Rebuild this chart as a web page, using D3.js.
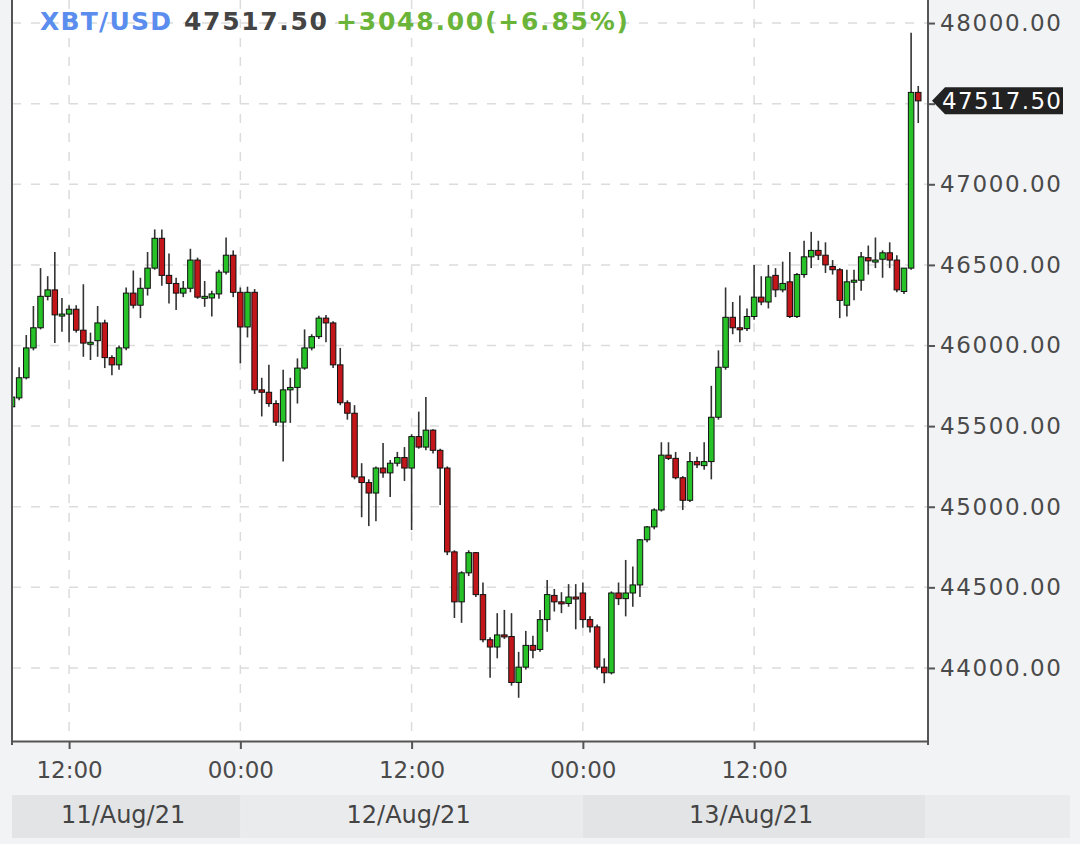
<!DOCTYPE html>
<html>
<head>
<meta charset="utf-8">
<script src="https://cdn.jsdelivr.net/npm/d3@7"></script>
<style>
  html, body { margin: 0; padding: 0; background: #f2f3f5; }
  svg { display: block; font-family: "DejaVu Sans", sans-serif; }
</style>
</head>
<body>
<svg width="1080" height="844"></svg>
<script>
// 30 minute candles, XBT/USD, 11 Aug 2021 08:00 UTC onwards
const symbol = 'XBT/USD';
const startTime = Date.UTC(2021, 7, 11, 8, 0);
const lastPrice = 47517.5;
const change = 3048.0;
const changePct = 6.85;

const opens = [
  45620, 45675, 45800, 45985, 46110, 46305, 46345, 46190, 46195, 46225,
  46095, 46015, 46030, 46140, 45925, 45880, 45985, 46325, 46250, 46355,
  46480, 46665, 46435, 46385, 46325, 46355, 46530, 46300, 46295, 46320,
  46455, 46560, 46330, 46115, 46330, 45725, 45710, 45640, 45525, 45725,
  45740, 45860, 45985, 46055, 46170, 46140, 45880, 45645, 45580, 45185,
  45150, 45085, 45240, 45210, 45270, 45305, 45240, 45435, 45370, 45475,
  45350, 45240, 44720, 44410, 44590, 44715, 44455, 44175, 44130, 44205,
  44195, 43910, 44005, 44140, 44115, 44300, 44450, 44410, 44400, 44440,
  44465, 44300, 44255, 44005, 43970, 44465, 44430, 44465, 44515, 44795,
  44875, 44980, 45320, 45300, 45180, 45040, 45280, 45255, 45280, 45555,
  45865, 46175, 46110, 46105, 46180, 46300, 46270, 46435, 46345, 46395,
  46180, 46440, 46550, 46590, 46560, 46490, 46470, 46250, 46395, 46405,
  46545, 46525, 46535, 46575, 46530, 46335, 46480, 47570
];
const highs = [
  45700, 45865, 46065, 46245, 46480, 46430, 46580, 46295, 46250, 46250,
  46380, 46080, 46245, 46160, 45940, 46000, 46360, 46465, 46420, 46580,
  46720, 46720, 46570, 46420, 46400, 46600, 46545, 46400, 46340, 46470,
  46670, 46590, 46360, 46365, 46350, 45800, 45880, 45660, 45850, 45800,
  45920, 46100, 46070, 46185, 46190, 46150, 45985, 45660, 45630, 45270,
  45170, 45250, 45395, 45290, 45340, 45370, 45450, 45590, 45680, 45480,
  45360, 45250, 44730, 44600, 44730, 44720, 44530, 44190, 44340, 44360,
  44340, 44100, 44230, 44200, 44360, 44545, 44490, 44470, 44520, 44520,
  44530, 44320, 44270, 44060, 44475, 44530, 44670, 44630, 44800, 44880,
  44990, 45400, 45400, 45340, 45190, 45340, 45310, 45400, 45750, 45970,
  46360, 46270, 46310, 46230, 46500, 46430, 46500, 46480, 46520, 46580,
  46450, 46650, 46705, 46650, 46640, 46530, 46480, 46470, 46470, 46580,
  46620, 46670, 46590, 46640, 46560, 46480, 47940, 47610
];
const lows = [
  45590, 45660, 45790, 45970, 46100, 46280, 46015, 46085, 46020, 46080,
  45930, 45910, 45930, 45860, 45815, 45850, 45970, 46230, 46170, 46310,
  46470, 46370, 46260, 46220, 46300, 46330, 46290, 46240, 46180, 46290,
  46440, 46300, 45890, 46050, 45700, 45560, 45620, 45500, 45280, 45520,
  45640, 45850, 45970, 46040, 46020, 45860, 45630, 45540, 45170, 44935,
  44880, 44910, 45180, 45060, 45250, 45160, 44855, 45360, 45350, 45330,
  45010, 44700, 44310, 44280, 44570, 44440, 44160, 43940, 44060, 44180,
  43890, 43815, 43990, 44060, 44100, 44225, 44350, 44340, 44380, 44240,
  44250, 44220, 43990, 43905, 43960, 44390, 44320, 44380, 44440, 44780,
  44860, 44970, 45290, 45170, 44980, 45030, 45240, 45230, 45170, 45540,
  45850, 46070, 46020, 46090, 46160, 46250, 46230, 46300, 46330, 46170,
  46170, 46420, 46480, 46530, 46450, 46440, 46170, 46180, 46280, 46340,
  46440, 46480, 46420, 46480, 46330, 46320, 46470, 47380
];
const closes = [
  45680, 45800, 45985, 46110, 46305, 46345, 46190, 46195, 46225, 46095,
  46015, 46020, 46140, 45925, 45880, 45985, 46325, 46250, 46355, 46480,
  46665, 46435, 46385, 46325, 46355, 46530, 46300, 46305, 46320, 46455,
  46560, 46330, 46115, 46330, 45725, 45710, 45640, 45525, 45725, 45740,
  45860, 45985, 46055, 46170, 46140, 45880, 45645, 45580, 45185, 45150,
  45085, 45240, 45210, 45270, 45305, 45240, 45435, 45370, 45475, 45350,
  45240, 44720, 44410, 44590, 44715, 44455, 44175, 44130, 44205, 44200,
  43910, 44005, 44140, 44110, 44300, 44455, 44410, 44405, 44440, 44435,
  44300, 44255, 44005, 43970, 44465, 44430, 44465, 44515, 44795, 44875,
  44980, 45320, 45300, 45180, 45040, 45280, 45260, 45280, 45555, 45865,
  46175, 46110, 46105, 46180, 46300, 46270, 46425, 46345, 46385, 46180,
  46440, 46550, 46590, 46560, 46500, 46470, 46280, 46395, 46405, 46550,
  46525, 46530, 46575, 46530, 46345, 46480, 47570, 47517.5
];

const yTicks = [44000, 44500, 45000, 45500, 46000, 46500, 47000, 47500, 48000];

const candles = closes.map((c, i) => ({
  t: new Date(startTime + i * 30 * 60000),
  o: opens[i], h: highs[i], l: lows[i], c: c
}));

const svg = d3.select('svg');
const plot = { left: 12, right: 928, top: 0, bottom: 741 };

const endTime = new Date(Date.UTC(2021, 7, 14, 0, 11));
const x = d3.scaleUtc()
  .domain([new Date(startTime), endTime])
  .range([plot.left, plot.right]);
const y = d3.scaleLinear()
  .domain([43547, 48143])
  .range([plot.bottom, plot.top]);

// 12 hour ticks, leaving out the one that falls on the right edge
const timeTicks = d3.utcHour.every(12).range(new Date(startTime), d3.utcHour.offset(endTime, -1));

// white plot background
svg.append('rect')
  .attr('x', plot.left).attr('y', plot.top)
  .attr('width', plot.right - plot.left)
  .attr('height', plot.bottom - plot.top)
  .attr('fill', '#fff');

// day bands under the time axis
const days = d3.utcDay.range(d3.utcDay.floor(x.domain()[0]), endTime);
const bands = svg.append('g');
days.forEach((d, i) => {
  const x0 = Math.max(plot.left, x(d));
  const x1 = i === days.length - 1 ? 1070 : x(d3.utcDay.offset(d, 1));
  bands.append('rect')
    .attr('x', x0).attr('y', 795)
    .attr('width', x1 - x0).attr('height', 43)
    .attr('fill', i % 2 === 0 ? '#e3e4e6' : '#eaebed');
  // the last day has only just started, no label
  if (i < days.length - 1) {
    bands.append('text')
      .attr('x', (x0 + x1) / 2 - 3).attr('y', 823)
      .attr('text-anchor', 'middle')
      .attr('font-size', 24)
      .attr('fill', '#444')
      .text(d3.utcFormat('%d/%b/%y')(d));
  }
});

// grid
const grid = svg.append('g')
  .attr('stroke', '#dcdcdc')
  .attr('stroke-width', 1.5)
  .attr('stroke-dasharray', '9,10');
grid.selectAll('line.h')
  .data(yTicks)
  .enter()
  .append('line')
  .attr('x1', plot.left).attr('x2', plot.right)
  .attr('y1', d => y(d)).attr('y2', d => y(d));
grid.selectAll('line.v')
  .data(timeTicks)
  .enter()
  .append('line')
  .attr('x1', d => x(d)).attr('x2', d => x(d))
  .attr('y1', plot.top).attr('y2', plot.bottom);

// candles
svg.append('clipPath').attr('id', 'clip')
  .append('rect')
  .attr('x', plot.left).attr('y', plot.top)
  .attr('width', plot.right - plot.left)
  .attr('height', plot.bottom - plot.top);

const cg = svg.append('g').attr('clip-path', 'url(#clip)');
const bodyW = 5.5;

cg.selectAll('line.wick')
  .data(candles)
  .enter()
  .append('line')
  .attr('x1', d => x(d.t)).attr('x2', d => x(d.t))
  .attr('y1', d => y(d.h)).attr('y2', d => y(d.l))
  .attr('stroke', '#333')
  .attr('stroke-width', 1.6);

cg.selectAll('rect.body')
  .data(candles)
  .enter()
  .append('rect')
  .attr('x', d => x(d.t) - bodyW / 2)
  .attr('y', d => y(Math.max(d.o, d.c)))
  .attr('width', bodyW)
  .attr('height', d => Math.max(2, Math.abs(y(d.o) - y(d.c))))
  .attr('fill', d => (d.c >= d.o ? '#27c227' : '#c3161b'))
  .attr('stroke', '#111')
  .attr('stroke-width', 1);

// left border
svg.append('line')
  .attr('x1', plot.left).attr('x2', plot.left)
  .attr('y1', plot.top).attr('y2', plot.bottom + 4)
  .attr('stroke', '#555').attr('stroke-width', 2);

// axes
const xAxis = svg.append('g')
  .attr('transform', `translate(0,${plot.bottom})`)
  .call(d3.axisBottom(x)
    .tickValues(timeTicks)
    .tickFormat(d3.utcFormat('%H:%M'))
    .tickSize(8).tickSizeOuter(0).tickPadding(13));

const yAxis = svg.append('g')
  .attr('transform', `translate(${plot.right},0)`)
  .call(d3.axisRight(y)
    .tickValues(yTicks)
    .tickFormat(d3.format('.2f'))
    .tickSize(7).tickSizeOuter(0).tickPadding(5));

[xAxis, yAxis].forEach(a => {
  a.select('.domain').attr('stroke', '#555').attr('stroke-width', 2);
  a.selectAll('.tick line').attr('stroke', '#555').attr('stroke-width', 2);
  a.selectAll('.tick text')
    .attr('font-family', '"DejaVu Sans", sans-serif')
    .attr('font-size', 23)
    .attr('fill', '#4a4a4a');
});
yAxis.select('.domain').attr('d', `M0,0V${plot.bottom + 4}`);
yAxis.selectAll('.tick text')
  .attr('textLength', 121)
  .attr('lengthAdjust', 'spacing');
// hide the tick label sitting under the last price marker
yAxis.selectAll('.tick')
  .filter(d => Math.abs(y(d) - y(lastPrice)) < 20)
  .select('text').remove();

// last price marker
const ly = y(lastPrice);
const px = plot.right + 4;
svg.append('path')
  .attr('d', `M${px},${ly} L${px + 13},${ly - 13.5} H1063 V${ly + 13.5} H${px + 13} Z`)
  .attr('fill', '#222');
svg.append('text')
  .attr('x', 942).attr('y', ly + 8.5)
  .attr('font-size', 23)
  .attr('fill', '#fff')
  .attr('textLength', 119)
  .attr('lengthAdjust', 'spacing')
  .text(d3.format('.2f')(lastPrice));

// title
const title = svg.append('g')
  .attr('font-weight', 'bold')
  .attr('font-size', 25);
title.append('text')
  .attr('x', 40).attr('y', 30)
  .attr('fill', '#5b8def')
  .attr('textLength', 131).attr('lengthAdjust', 'spacing')
  .text(symbol);
title.append('text')
  .attr('x', 184).attr('y', 30)
  .attr('fill', '#444')
  .attr('textLength', 143).attr('lengthAdjust', 'spacing')
  .text(d3.format('.2f')(lastPrice));
title.append('text')
  .attr('x', 336).attr('y', 30)
  .attr('fill', '#6ab43a')
  .attr('textLength', 292).attr('lengthAdjust', 'spacing')
  .text(`${d3.format('+.2f')(change)}(${d3.format('+.2f')(changePct)}%)`);
</script>
</body>
</html>
